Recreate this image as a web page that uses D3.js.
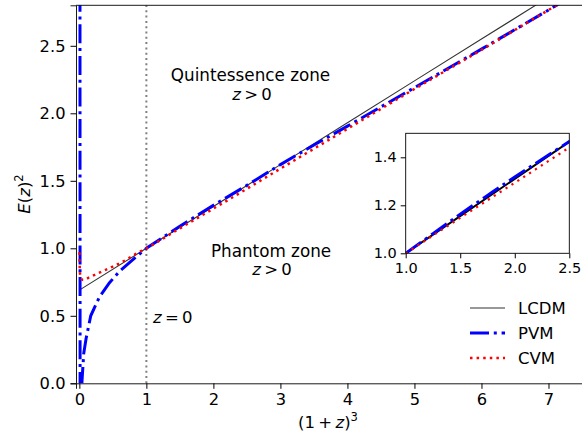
<!DOCTYPE html>
<html>
<head>
<meta charset="utf-8">
<script src="https://cdn.jsdelivr.net/npm/d3@7"></script>
<style>
	body { margin: 0; background: white; }
	text { font-family: "DejaVu Sans", sans-serif; fill: #000; }
</style>
</head>
<body>
<div id="dataviz"></div>
<script>
// valores
var xTicks = [0, 1, 2, 3, 4, 5, 6, 7];
var yTicks = [0.0, 0.5, 1.0, 1.5, 2.0, 2.5];
var insetXTicks = [1.0, 1.5, 2.0, 2.5];
var insetYTicks = [1.0, 1.2, 1.4];

var lcdmX = [0.0, 1.0, 2.0, 3.0, 4.0, 5.0, 6.0, 7.5];
var lcdmY = [0.69, 1.0, 1.31, 1.62, 1.93, 2.24, 2.55, 3.015];

var pvmX = [0.008, 0.014, 0.03, 0.04, 0.065, 0.1, 0.17, 0.3, 0.45, 0.6, 0.76, 1.0, 1.25, 1.5, 1.75, 2.0, 2.25, 2.5, 3.0, 3.5, 4.0, 5.0, 6.0, 7.12, 7.5];
var pvmY = [5.0, -5.0, -0.1, 0.02, 0.22, 0.33, 0.5, 0.64, 0.745, 0.83, 0.9, 1.0, 1.082, 1.163, 1.241, 1.318, 1.392, 1.466, 1.62, 1.765, 1.905, 2.19, 2.475, 2.8, 2.91];

var cvmX = [0.002, 0.004, 0.008, 0.03, 0.06, 0.15, 0.3, 0.5, 0.7, 0.85, 1.0, 1.5, 2.0, 2.45, 3.0, 4.0, 5.0, 6.0, 7.12, 7.5];
var cvmY = [0.97, 0.9, 0.82, 0.772, 0.766, 0.785, 0.82, 0.865, 0.915, 0.96, 1.0, 1.148, 1.294, 1.426, 1.59, 1.885, 2.18, 2.47, 2.8, 2.91];

var series = ["LCDM", "PVM", "CVM"];

function pares(xs, ys) {
	var out = [];
	for (var i = 0; i < xs.length; i++) {
		out.push({x: xs[i], y: ys[i]});
	}
	return out;
}

var estilos = {
	"LCDM": {color: "#333", width: 1.1, dash: null, data: pares(lcdmX, lcdmY)},
	"PVM": {color: "blue", width: 3, dash: "19,4.8,3,4.8", data: pares(pvmX, pvmY)},
	"CVM": {color: "red", width: 2.5, dash: "2.5,4.1", data: pares(cvmX, cvmY)}
};

var svg = d3.select("#dataviz")
	.append("svg")
	.attr("width", 582)
	.attr("height", 433);

var x = d3.scaleLinear().domain([-0.05, 7.5]).range([76, 582]);
var y = d3.scaleLinear().domain([0, 2.8]).range([383.3, 5.3]);

svg.append("clipPath").attr("id", "clip")
	.append("rect")
	.attr("x", 76).attr("y", 5.3)
	.attr("width", 506).attr("height", 378);

var plot = svg.append("g").attr("clip-path", "url(#clip)");

// linea z = 0
plot.append("line")
	.attr("x1", x(1)).attr("x2", x(1))
	.attr("y1", y(0)).attr("y2", y(2.8))
	.attr("stroke", "#808080")
	.attr("stroke-width", 2)
	.attr("stroke-dasharray", "2,3.3");

var line = d3.line()
	.x(function(d) { return x(d.x); })
	.y(function(d) { return y(d.y); })
	.curve(d3.curveMonotoneX);

var recta = d3.line()
	.x(function(d) { return x(d.x); })
	.y(function(d) { return y(d.y); });

series.forEach(function(s) {
	var e = estilos[s];
	plot.append("path")
		.datum(e.data)
		.attr("fill", "none")
		.attr("stroke", e.color)
		.attr("stroke-width", e.width)
		.attr("stroke-dasharray", e.dash)
		.attr("d", s == "PVM" ? recta : line);
});

// ejes
svg.append("g")
	.attr("transform", "translate(0," + y(0) + ")")
	.call(d3.axisBottom(x).tickValues(xTicks).tickSize(5.5).tickPadding(5).tickFormat(d3.format("d")))
	.call(function(g) {
		g.select(".domain").attr("stroke", "#000").attr("stroke-width", 0.9);
		g.selectAll("text").style("font-size", "16.3px");
	});

svg.append("g")
	.attr("transform", "translate(76,0)")
	.call(d3.axisLeft(y).tickValues(yTicks).tickSize(5.5).tickPadding(5).tickFormat(d3.format(".1f")))
	.call(function(g) {
		g.select(".domain").attr("stroke", "#000").attr("stroke-width", 0.9);
		g.selectAll("text").style("font-size", "16.3px");
	});

svg.append("line")
	.attr("x1", 76).attr("x2", 582)
	.attr("y1", 5.3).attr("y2", 5.3)
	.attr("stroke", "#000").attr("stroke-width", 0.9);

// etiquetas de ejes
var ylab = svg.append("text")
	.attr("transform", "translate(30,194) rotate(-90)")
	.attr("text-anchor", "middle")
	.style("font-size", "16.5px");
ylab.append("tspan").style("font-style", "italic").text("E");
ylab.append("tspan").text("(");
ylab.append("tspan").style("font-style", "italic").text("z");
ylab.append("tspan").text(")");
ylab.append("tspan").attr("dy", -7).style("font-size", "11.5px").text("2");

var xlab = svg.append("text")
	.attr("x", 328).attr("y", 428)
	.attr("text-anchor", "middle")
	.style("font-size", "16.5px");
xlab.append("tspan").text("(1\u2009+\u2009");
xlab.append("tspan").style("font-style", "italic").text("z");
xlab.append("tspan").text(")");
xlab.append("tspan").attr("dy", -7).style("font-size", "11.5px").text("3");

// anotaciones
function zrel(cx, cy, rel, anchor) {
	var t = svg.append("text")
		.attr("x", cx).attr("y", cy)
		.attr("text-anchor", anchor)
		.style("font-size", "16.5px");
	t.append("tspan").style("font-style", "italic").text("z");
	t.append("tspan").text(rel);
}

svg.append("text")
	.attr("x", 250.5).attr("y", 81)
	.attr("text-anchor", "middle")
	.style("font-size", "16.8px")
	.text("Quintessence zone");
zrel(252, 100, "\u2009>\u20090", "middle");

svg.append("text")
	.attr("x", 271).attr("y", 256.5)
	.attr("text-anchor", "middle")
	.style("font-size", "16.8px")
	.text("Phantom zone");
zrel(272, 274.5, "\u2009>\u20090", "middle");

zrel(153, 322.5, "\u2009=\u20090", "start");

// leyenda
series.forEach(function(s, i) {
	var e = estilos[s];
	var ly = 308 + i * 25;
	svg.append("line")
		.attr("x1", 470).attr("x2", 505)
		.attr("y1", ly).attr("y2", ly)
		.attr("stroke", e.color)
		.attr("stroke-width", e.width)
		.attr("stroke-dasharray", e.dash);
	svg.append("text")
		.attr("x", 518).attr("y", ly)
		.attr("dy", "0.36em")
		.style("font-size", "16.5px")
		.text(s);
});

// recuadro ampliado
var xi = d3.scaleLinear().domain([1, 2.5]).range([405.7, 569.3]);
var yi = d3.scaleLinear().domain([1, 1.5]).range([253.3, 133.3]);

svg.append("rect")
	.attr("x", 405.7).attr("y", 133.3)
	.attr("width", 163.6).attr("height", 120)
	.attr("fill", "white");

svg.append("clipPath").attr("id", "clip2")
	.append("rect")
	.attr("x", 405.7).attr("y", 133.3)
	.attr("width", 163.6).attr("height", 120);

var inset = svg.append("g").attr("clip-path", "url(#clip2)");

var linei = d3.line()
	.x(function(d) { return xi(d.x); })
	.y(function(d) { return yi(d.y); })
	.curve(d3.curveMonotoneX);

var insetWidths = {"LCDM": 2, "PVM": 3, "CVM": 2.2};
var insetColors = {"LCDM": "#000", "PVM": "blue", "CVM": "red"};
series.forEach(function(s) {
	var e = estilos[s];
	inset.append("path")
		.datum(e.data.filter(function(d) { return d.x >= 0.9 && d.x <= 3; }))
		.attr("fill", "none")
		.attr("stroke", insetColors[s])
		.attr("stroke-width", insetWidths[s])
		.attr("stroke-dasharray", s == "CVM" ? "2.2,4.8" : e.dash)
		.attr("d", linei);
});

svg.append("rect")
	.attr("x", 405.7).attr("y", 133.3)
	.attr("width", 163.6).attr("height", 120)
	.attr("fill", "none")
	.attr("stroke", "#000")
	.attr("stroke-width", 0.9);

svg.append("g")
	.attr("transform", "translate(0,253.3)")
	.call(d3.axisBottom(xi).tickValues(insetXTicks).tickSize(5).tickPadding(4).tickFormat(d3.format(".1f")))
	.call(function(g) {
		g.select(".domain").remove();
		g.selectAll("text").style("font-size", "14.5px");
	});

svg.append("g")
	.attr("transform", "translate(405.7,0)")
	.call(d3.axisLeft(yi).tickValues(insetYTicks).tickSize(5).tickPadding(4).tickFormat(d3.format(".1f")))
	.call(function(g) {
		g.select(".domain").remove();
		g.selectAll("text").style("font-size", "14.5px");
	});
</script>
</body>
</html>
